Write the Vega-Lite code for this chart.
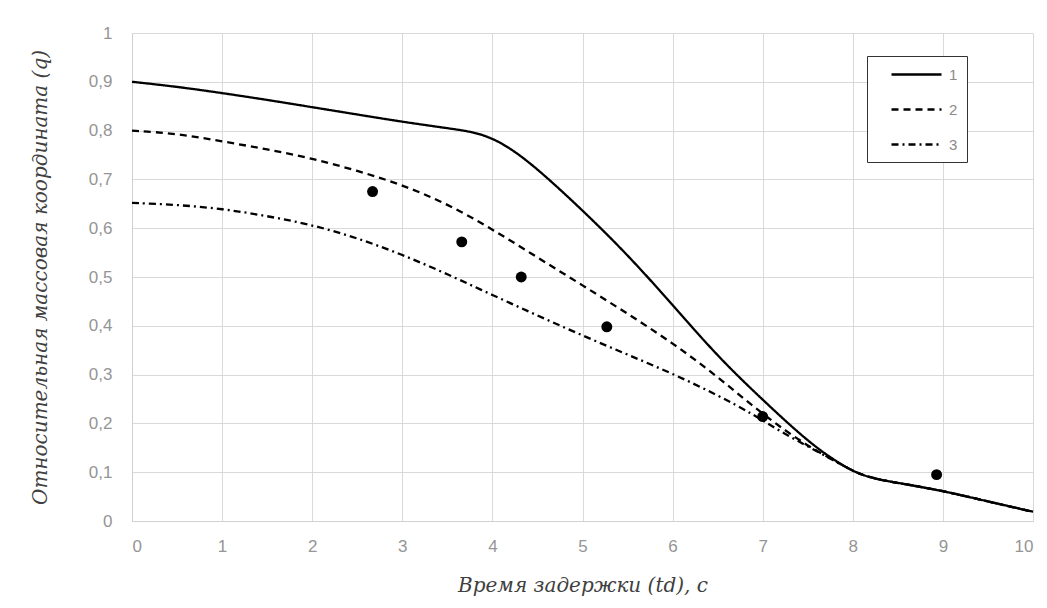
{
  "$schema": "https://vega.github.io/schema/vega-lite/v6.json",
  "autosize": {"type": "none"},
  "width": 901,
  "height": 488,
  "padding": {"left": 132, "top": 33, "right": 14, "bottom": 87},
  "background": "white",
  "config": {
    "view": {"stroke": null},
    "axis": {
      "labelFont": "Liberation Sans",
      "labelFontSize": 17,
      "labelColor": "#959595",
      "titleFont": "DejaVu Serif",
      "titleFontStyle": "italic",
      "titleFontWeight": "normal",
      "titleColor": "#404040",
      "gridColor": "#d9d9d9",
      "gridWidth": 1,
      "domainColor": "#d0d0d0",
      "ticks": false
    }
  },
  "datasets": {
    "curves": [
      {"s": "1", "x": 0, "y": 0.9},
      {"s": "1", "x": 0.5, "y": 0.89},
      {"s": "1", "x": 1, "y": 0.877},
      {"s": "1", "x": 1.5, "y": 0.863},
      {"s": "1", "x": 2, "y": 0.848},
      {"s": "1", "x": 2.5, "y": 0.833},
      {"s": "1", "x": 3, "y": 0.818},
      {"s": "1", "x": 3.5, "y": 0.805},
      {"s": "1", "x": 3.8, "y": 0.797},
      {"s": "1", "x": 4, "y": 0.784},
      {"s": "1", "x": 4.2, "y": 0.764},
      {"s": "1", "x": 4.5, "y": 0.722},
      {"s": "1", "x": 5, "y": 0.637},
      {"s": "1", "x": 5.5, "y": 0.546},
      {"s": "1", "x": 6, "y": 0.443},
      {"s": "1", "x": 6.5, "y": 0.337},
      {"s": "1", "x": 7, "y": 0.248},
      {"s": "1", "x": 7.5, "y": 0.163},
      {"s": "1", "x": 7.8, "y": 0.124},
      {"s": "1", "x": 8, "y": 0.102},
      {"s": "1", "x": 8.2, "y": 0.088},
      {"s": "1", "x": 8.5, "y": 0.078},
      {"s": "1", "x": 9, "y": 0.062},
      {"s": "1", "x": 9.5, "y": 0.04},
      {"s": "1", "x": 10, "y": 0.019},
      {"s": "2", "x": 0, "y": 0.8},
      {"s": "2", "x": 0.5, "y": 0.794},
      {"s": "2", "x": 1, "y": 0.778},
      {"s": "2", "x": 1.5, "y": 0.762},
      {"s": "2", "x": 2, "y": 0.743},
      {"s": "2", "x": 2.5, "y": 0.718},
      {"s": "2", "x": 3, "y": 0.689},
      {"s": "2", "x": 3.5, "y": 0.65},
      {"s": "2", "x": 4, "y": 0.598},
      {"s": "2", "x": 4.5, "y": 0.54},
      {"s": "2", "x": 5, "y": 0.483},
      {"s": "2", "x": 5.5, "y": 0.425},
      {"s": "2", "x": 6, "y": 0.365},
      {"s": "2", "x": 6.5, "y": 0.296},
      {"s": "2", "x": 7, "y": 0.218},
      {"s": "2", "x": 7.5, "y": 0.153},
      {"s": "2", "x": 7.8, "y": 0.124},
      {"s": "2", "x": 8, "y": 0.102},
      {"s": "2", "x": 8.2, "y": 0.088},
      {"s": "2", "x": 8.5, "y": 0.078},
      {"s": "2", "x": 9, "y": 0.062},
      {"s": "2", "x": 9.5, "y": 0.04},
      {"s": "2", "x": 10, "y": 0.019},
      {"s": "3", "x": 0, "y": 0.652},
      {"s": "3", "x": 0.5, "y": 0.648},
      {"s": "3", "x": 1, "y": 0.64},
      {"s": "3", "x": 1.5, "y": 0.625},
      {"s": "3", "x": 2, "y": 0.607},
      {"s": "3", "x": 2.5, "y": 0.58},
      {"s": "3", "x": 3, "y": 0.546},
      {"s": "3", "x": 3.5, "y": 0.506},
      {"s": "3", "x": 4, "y": 0.463},
      {"s": "3", "x": 4.5, "y": 0.421},
      {"s": "3", "x": 5, "y": 0.38},
      {"s": "3", "x": 5.5, "y": 0.341},
      {"s": "3", "x": 6, "y": 0.302},
      {"s": "3", "x": 6.5, "y": 0.258},
      {"s": "3", "x": 6.9, "y": 0.218},
      {"s": "3", "x": 7.2, "y": 0.183},
      {"s": "3", "x": 7.5, "y": 0.153},
      {"s": "3", "x": 7.8, "y": 0.123},
      {"s": "3", "x": 8, "y": 0.102},
      {"s": "3", "x": 8.2, "y": 0.088},
      {"s": "3", "x": 8.5, "y": 0.078},
      {"s": "3", "x": 9, "y": 0.062},
      {"s": "3", "x": 9.5, "y": 0.04},
      {"s": "3", "x": 10, "y": 0.019}
    ],
    "dots": [
      {"x": 2.67, "y": 0.675},
      {"x": 3.66, "y": 0.572},
      {"x": 4.32, "y": 0.5},
      {"x": 5.27, "y": 0.398},
      {"x": 7.0, "y": 0.214},
      {"x": 8.93, "y": 0.095}
    ]
  },
  "layer": [
    {
      "data": {"name": "curves"},
      "mark": {"type": "line", "interpolate": "basis", "color": "black", "strokeWidth": 2.3},
      "encoding": {
        "x": {
          "field": "x", "type": "quantitative",
          "scale": {"domain": [0, 10], "nice": false},
          "axis": {"values": [0,1,2,3,4,5,6,7,8,9,10], "format": "d", "title": "Время задержки (td), с", "titleFontSize": 20, "labelPadding": 17, "titlePadding": 21}
        },
        "y": {
          "field": "y", "type": "quantitative",
          "scale": {"domain": [0, 1], "nice": false},
          "axis": {"values": [0,0.1,0.2,0.3,0.4,0.5,0.6,0.7,0.8,0.9,1], "format": ".1~f", "labelExpr": "replace(datum.label, '.', ',')", "title": "Относительная массовая координата (q)", "titleFontSize": 20, "labelPadding": 20, "titlePadding": 38}
        },
        "strokeDash": {
          "field": "s", "type": "nominal",
          "scale": {"domain": ["1", "2", "3"], "range": [[1, 0], [7, 5], [7, 4, 2, 4]]},
          "legend": {
            "title": null,
            "orient": "none",
            "legendX": 735,
            "legendY": 23,
            "symbolType": "M0.75,0H7",
            "symbolSize": 256,
            "symbolStrokeWidth": 2.5,
            "symbolStrokeColor": "black",
            "labelFont": "Liberation Sans",
            "labelFontSize": 15,
            "labelColor": "#8a8a8a",
            "labelOffset": 54,
            "fillColor": "white",
            "strokeColor": "#333333",
            "padding": 9,
            "rowPadding": 17
          }
        }
      }
    },
    {
      "data": {"name": "dots"},
      "mark": {"type": "point", "filled": true, "color": "black", "opacity": 1, "size": 120},
      "encoding": {
        "x": {"field": "x", "type": "quantitative"},
        "y": {"field": "y", "type": "quantitative"}
      }
    }
  ]
}
